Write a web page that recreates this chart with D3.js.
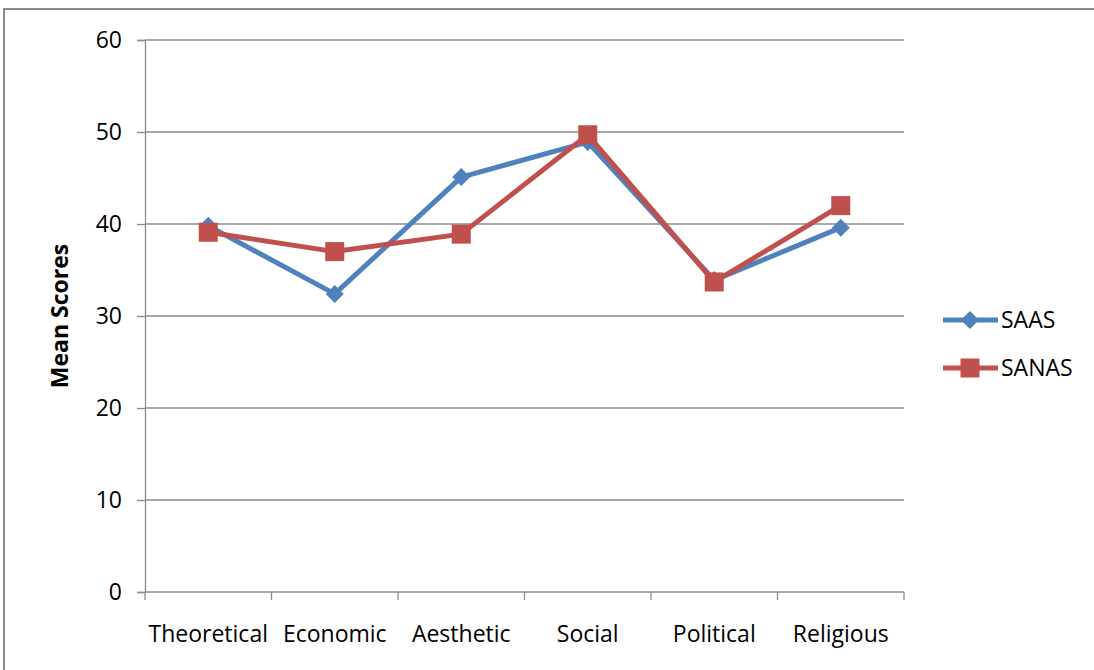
<!DOCTYPE html>
<html>
<head>
<meta charset="utf-8">
<script src="https://cdn.jsdelivr.net/npm/d3@7"></script>
<style>
  body { margin: 0; background: #fff; }
  .tick-text { font-family: "Open Sans", sans-serif; font-size: 23px; fill: #000; }
</style>
</head>
<body>
<div id="chart"></div>
<script>
// --- DATA ---
const categories = ["Theoretical", "Economic", "Aesthetic", "Social", "Political", "Religious"];
const saas = [39.8, 32.4, 45.1, 48.9, 33.9, 39.6];
const sanas = [39.1, 37.0, 38.9, 49.7, 33.7, 42.0];
const yTicks = [0, 10, 20, 30, 40, 50, 60];
const seriesNames = ["SAAS", "SANAS"];

(function () {
    'use strict';

    const W = 1094, H = 670;
    const plot = { left: 145, right: 904, top: 40, bottom: 592 };
    const blue = "#4F81BD", red = "#C0504D", grid = "#8c8c8c";
    const dSize = 9, sq = 19; // marker sizes

    const svg = d3.select("#chart").append("svg")
        .attr("width", W).attr("height", H);

    // chart frame (cut at the right and bottom edges)
    svg.append("rect")
        .attr("x", 4).attr("y", 9)
        .attr("width", W + 20).attr("height", H + 20)
        .attr("fill", "none").attr("stroke", "#8a8a8a").attr("stroke-width", 2);

    const x = d3.scaleBand().domain(categories).range([plot.left, plot.right]);
    const y = d3.scaleLinear().domain([0, 60]).range([plot.bottom, plot.top]);

    // gridlines
    svg.selectAll(".grid").data(yTicks.filter(d => d > 0)).enter().append("line")
        .attr("x1", plot.left).attr("x2", plot.right)
        .attr("y1", d => y(d)).attr("y2", d => y(d))
        .attr("stroke", grid).attr("stroke-width", 1.3);

    // y axis
    const yAxis = svg.append("g")
        .attr("transform", `translate(${plot.left},0)`)
        .call(d3.axisLeft(y).tickValues(yTicks).tickSize(8).tickPadding(15));
    yAxis.select(".domain").attr("stroke", grid).attr("stroke-width", 1.3);
    yAxis.selectAll(".tick line").attr("stroke", grid).attr("stroke-width", 1.3);
    yAxis.selectAll("text").attr("class", "tick-text").attr("font-family", null).attr("font-size", null);

    // x axis: baseline plus ticks at band edges
    svg.append("line")
        .attr("x1", plot.left).attr("x2", plot.right)
        .attr("y1", y(0)).attr("y2", y(0))
        .attr("stroke", grid).attr("stroke-width", 1.3);
    const edges = categories.map(c => x(c)).concat([x.range()[1]]);
    svg.selectAll(".xtick").data(edges).enter().append("line")
        .attr("x1", d => d).attr("x2", d => d)
        .attr("y1", y(0)).attr("y2", y(0) + 8)
        .attr("stroke", grid).attr("stroke-width", 1.3);
    svg.selectAll(".xlabel").data(categories).enter().append("text")
        .attr("class", "tick-text")
        .attr("x", d => x(d) + x.bandwidth() / 2)
        .attr("y", 642)
        .attr("text-anchor", "middle")
        .text(d => d);

    // y axis title
    svg.append("text")
        .attr("transform", `translate(68,${(plot.top + plot.bottom) / 2}) rotate(-90)`)
        .attr("text-anchor", "middle")
        .attr("font-family", "'Open Sans', sans-serif").attr("font-weight", "bold")
        .attr("font-size", 23)
        .text("Mean Scores");

    const cx = c => x(c) + x.bandwidth() / 2;
    const line = d3.line().x((d, i) => cx(categories[i])).y(d => y(d));

    function diamond(sel, s) {
        sel.attr("d", `M0,${-s}L${s},0L0,${s}L${-s},0Z`);
    }

    // SAAS
    svg.append("path").datum(saas)
        .attr("d", line).attr("fill", "none")
        .attr("stroke", blue).attr("stroke-width", 5).attr("stroke-linejoin", "round");
    svg.selectAll(".m-saas").data(saas).enter().append("path")
        .attr("transform", (d, i) => `translate(${cx(categories[i])},${y(d)})`)
        .call(diamond, dSize)
        .attr("fill", blue);

    // SANAS
    svg.append("path").datum(sanas)
        .attr("d", line).attr("fill", "none")
        .attr("stroke", red).attr("stroke-width", 5).attr("stroke-linejoin", "round");
    svg.selectAll(".m-sanas").data(sanas).enter().append("rect")
        .attr("x", (d, i) => cx(categories[i]) - sq / 2)
        .attr("y", d => y(d) - sq / 2)
        .attr("width", sq).attr("height", sq)
        .attr("fill", red);

    // legend
    const legend = svg.append("g");
    const colors = [blue, red];
    seriesNames.forEach((name, i) => {
        const ly = 320 + i * 48;
        const g = legend.append("g").attr("transform", `translate(0,${ly})`);
        g.append("line").attr("x1", 943).attr("x2", 998)
            .attr("stroke", colors[i]).attr("stroke-width", 5);
        if (i === 0) {
            g.append("path").attr("transform", "translate(970,0)").call(diamond, dSize).attr("fill", colors[i]);
        } else {
            g.append("rect").attr("x", 970 - sq / 2).attr("y", -sq / 2)
                .attr("width", sq).attr("height", sq).attr("fill", colors[i]);
        }
        g.append("text").attr("class", "tick-text")
            .attr("x", 1001).attr("y", 0).attr("dy", "0.35em")
            .text(name);
    });
})();
</script>
</body>
</html>
